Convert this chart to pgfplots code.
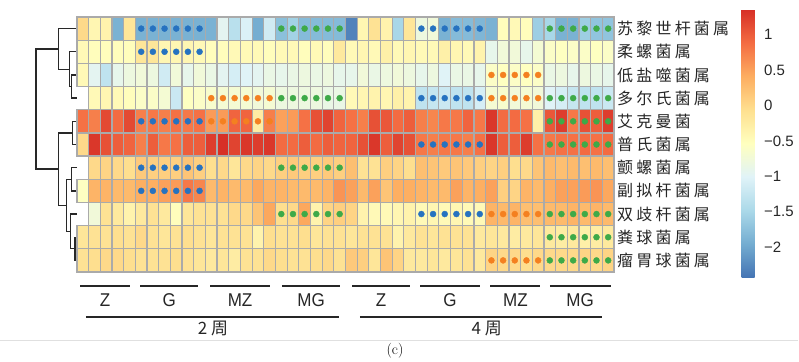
\documentclass[border=0pt]{standalone}
\usepackage{fontspec}
\usepackage{pgfplots}
\usepackage{pgfplotstable}
\pgfplotsset{compat=1.18}
\newfontfamily\cjk[LetterSpace=20]{Noto Sans CJK SC}
\newfontfamily\cjkplain{Noto Sans CJK SC}
\newfontfamily\lsans{Liberation Sans}
\newfontfamily\cond[FakeStretch=0.92]{Liberation Sans}
\newcommand\rowfont{\cjk\fontsize{16}{18}\selectfont}
\newcommand\barfont{\lsans\fontsize{15}{18}\selectfont}
\newcommand\grp[1]{{\cond\fontsize{18.5}{21}\selectfont #1}}
\newcommand\wk[1]{{\cjkplain\fontsize{17}{20}\selectfont #1}}
\newcommand\capt[1]{{\fontsize{15}{18}\selectfont #1}}
\definecolor{dotblue}{RGB}{38,114,192}
\definecolor{dotorange}{RGB}{244,128,32}
\definecolor{dotgreen}{RGB}{62,170,72}
\definecolor{gridgray}{RGB}{170,170,170}
\definecolor{dendro}{RGB}{40,40,40}
\pgfdeclareplotmark{cell}{%
  \pgfpathrectangle{\pgfpoint{-5.837pt}{-11.591pt}}{\pgfpoint{11.674pt}{23.182pt}}%
  \pgfusepathqfillstroke}

% 11 rows x 46 columns, row by row (x varies fastest)
\pgfplotstableread[row sep=\\]{
c\\
0.0\\ -0.4\\ -0.35\\ -1.9\\ -0.15\\ -1.9\\ -1.9\\ -1.9\\ -1.9\\ -1.9\\ -1.9\\ -1.9\\ -0.95\\ -1.35\\ -1.05\\ -1.95\\ -1.15\\ -1.75\\ -1.55\\ -1.8\\ -1.8\\ -1.8\\ -1.8\\ -2.3\\ -0.4\\ -0.1\\ -0.35\\ -1.5\\ -0.15\\ -0.8\\ -0.75\\ -1.9\\ -1.8\\ -1.8\\ -1.85\\ -1.9\\ -0.5\\ -0.45\\ -0.5\\ -1.6\\ -1.5\\ -1.9\\ -1.9\\ -1.6\\ -1.7\\ -1.7\\
-0.45\\ -0.5\\ -0.5\\ -0.5\\ -0.5\\ -0.15\\ -0.15\\ -0.4\\ -0.4\\ -0.4\\ -0.45\\ -0.5\\ -0.5\\ -0.45\\ -0.45\\ -0.45\\ -0.5\\ -0.45\\ -0.45\\ -0.5\\ -0.45\\ -0.5\\ -0.2\\ -0.45\\ -0.4\\ -0.45\\ -0.3\\ -0.45\\ -0.4\\ -0.45\\ -0.45\\ -0.3\\ -0.4\\ -0.45\\ -0.35\\ -0.9\\ -0.75\\ -0.75\\ -0.9\\ -0.7\\ -0.6\\ -0.55\\ -0.6\\ -0.6\\ -0.55\\ -0.6\\
-0.95\\ -0.95\\ -1.3\\ -0.9\\ -0.8\\ -0.75\\ -0.8\\ -1.15\\ -0.75\\ -0.9\\ -0.75\\ -0.85\\ -0.95\\ -1.1\\ -1.0\\ -0.95\\ -0.85\\ -0.9\\ -0.85\\ -0.8\\ -0.85\\ -0.8\\ -0.9\\ -0.9\\ -0.75\\ -0.85\\ -0.8\\ -0.75\\ -0.8\\ -0.9\\ -0.8\\ -1.0\\ -0.85\\ -0.85\\ -0.9\\ -0.6\\ -0.55\\ -0.6\\ -0.55\\ -0.6\\ -0.85\\ -0.8\\ -0.9\\ -0.8\\ -0.85\\ -0.9\\
-0.45\\ -0.45\\ -0.4\\ -0.45\\ -0.5\\ -0.6\\ -0.6\\ -0.7\\ -1.2\\ -0.55\\ -0.6\\ -0.65\\ -0.7\\ -0.7\\ -0.7\\ -0.75\\ -0.7\\ -0.8\\ -0.8\\ -0.8\\ -0.8\\ -0.85\\ -0.85\\ -0.45\\ -0.4\\ -0.35\\ -0.4\\ -0.3\\ -0.35\\ -1.3\\ -1.25\\ -1.2\\ -1.3\\ -1.3\\ -1.1\\ -0.7\\ -0.65\\ -0.75\\ -0.7\\ -0.75\\ -1.0\\ -1.1\\ -1.25\\ -1.3\\ -1.3\\ -1.2\\
0.85\\ 0.75\\ 1.15\\ 0.9\\ 1.15\\ 0.75\\ 0.8\\ 0.75\\ 0.85\\ 0.8\\ 0.85\\ 0.55\\ 0.55\\ 0.95\\ 0.95\\ -0.25\\ 0.75\\ 0.5\\ 0.55\\ 0.85\\ 1.1\\ 1.2\\ 0.95\\ 0.85\\ 0.75\\ 1.1\\ 1.05\\ 0.9\\ 1.0\\ 0.75\\ 0.7\\ 0.8\\ 0.8\\ 0.95\\ 0.8\\ 1.3\\ 0.9\\ 0.9\\ 0.85\\ -0.3\\ 1.05\\ 1.25\\ 0.8\\ 1.1\\ 1.0\\ 1.25\\
1.3\\ 1.3\\ 1.1\\ 1.0\\ 0.95\\ 0.75\\ 1.0\\ 0.8\\ 0.85\\ 1.0\\ 1.0\\ 1.25\\ 1.35\\ 1.2\\ 1.3\\ 1.25\\ 1.3\\ 0.9\\ 0.9\\ 1.0\\ 0.9\\ 1.0\\ 0.95\\ 0.95\\ 1.1\\ 1.3\\ 1.0\\ 1.2\\ 1.1\\ 0.8\\ 0.75\\ 0.8\\ 0.8\\ 0.75\\ 0.85\\ 1.3\\ 1.0\\ 1.0\\ 1.25\\ 0.85\\ 0.8\\ 0.85\\ 0.85\\ 0.9\\ 0.85\\ 0.9\\
0.0\\ 0.0\\ 0.05\\ 0.0\\ -0.05\\ 0.15\\ 0.1\\ 0.1\\ 0.1\\ 0.2\\ 0.1\\ -0.05\\ 0.0\\ -0.15\\ 0.0\\ 0.05\\ 0.0\\ 0.1\\ 0.15\\ 0.1\\ 0.1\\ 0.15\\ 0.1\\ 0.25\\ -0.1\\ -0.1\\ 0.1\\ 0.05\\ -0.05\\ 0.25\\ 0.2\\ 0.15\\ 0.2\\ 0.15\\ 0.1\\ 0.05\\ 0.1\\ -0.05\\ 0.0\\ 0.2\\ 0.3\\ 0.25\\ 0.3\\ 0.25\\ 0.3\\ 0.25\\
0.45\\ 0.35\\ 0.35\\ 0.3\\ 0.3\\ 0.4\\ 0.4\\ 0.5\\ 0.55\\ 0.8\\ 0.7\\ 0.3\\ 0.35\\ 0.3\\ 0.3\\ 0.45\\ 0.35\\ 0.35\\ 0.3\\ 0.3\\ 0.3\\ 0.35\\ 0.6\\ 0.5\\ 0.3\\ 0.5\\ 0.2\\ 0.4\\ 0.4\\ 0.35\\ 0.3\\ 0.3\\ 0.5\\ 0.35\\ 0.4\\ 0.5\\ 0.1\\ 0.05\\ 0.35\\ 0.3\\ 0.4\\ 0.5\\ 0.5\\ 0.55\\ 0.6\\ 0.45\\
-0.55\\ -0.75\\ -0.1\\ -0.2\\ -0.35\\ -0.2\\ -0.1\\ -0.2\\ -0.5\\ -0.15\\ -0.1\\ -0.1\\ -0.1\\ 0.0\\ 0.0\\ 0.2\\ 0.45\\ -0.05\\ 0.0\\ 0.45\\ -0.35\\ 0.05\\ 0.1\\ 0.05\\ -0.35\\ -0.45\\ -0.45\\ -0.4\\ -0.35\\ -0.45\\ -0.4\\ -0.45\\ -0.4\\ -0.45\\ -0.45\\ 0.35\\ 0.3\\ 0.35\\ 0.25\\ 0.25\\ 0.3\\ 0.3\\ 0.35\\ 0.3\\ 0.35\\ 0.3\\
-0.15\\ -0.1\\ -0.1\\ -0.05\\ -0.1\\ 0.0\\ -0.1\\ -0.15\\ -0.1\\ -0.05\\ -0.1\\ -0.15\\ -0.1\\ -0.1\\ -0.1\\ -0.35\\ -0.05\\ -0.1\\ -0.1\\ -0.05\\ -0.15\\ -0.1\\ -0.1\\ -0.15\\ -0.1\\ -0.1\\ -0.1\\ -0.35\\ -0.2\\ -0.1\\ -0.15\\ -0.1\\ -0.1\\ -0.1\\ -0.2\\ -0.15\\ -0.2\\ -0.25\\ -0.2\\ -0.15\\ -0.2\\ -0.25\\ -0.2\\ -0.3\\ -0.25\\ -0.2\\
-0.1\\ -0.05\\ 0.0\\ 0.0\\ -0.05\\ -0.1\\ -0.1\\ -0.1\\ -0.05\\ -0.1\\ -0.15\\ -0.2\\ -0.15\\ -0.25\\ -0.1\\ -0.1\\ 0.0\\ -0.05\\ -0.1\\ -0.1\\ -0.05\\ 0.0\\ -0.1\\ 0.15\\ 0.1\\ -0.15\\ 0.2\\ 0.05\\ -0.2\\ -0.2\\ -0.15\\ -0.2\\ -0.15\\ -0.1\\ -0.2\\ 0.05\\ 0.0\\ 0.0\\ -0.05\\ 0.0\\ 0.0\\ 0.0\\ 0.0\\ 0.05\\ 0.0\\ 0.05\\
}\heat
\pgfplotstablecreatecol[create col/expr={mod(\pgfplotstablerow,46)}]{x}\heat
\pgfplotstablecreatecol[create col/expr={floor(\pgfplotstablerow/46)}]{y}\heat

\begin{document}
\begin{tikzpicture}
\useasboundingbox (-77pt,-89pt) rectangle (722pt,272pt);
\begin{axis}[
  at={(0pt,0pt)}, anchor=south west,
  scale only axis, width=537pt, height=255pt,
  xmin=-0.5, xmax=45.5, ymin=-0.5, ymax=10.5, y dir=reverse,
  clip=false,
  axis line style={draw=none},
  xtick=\empty,
  ytick={0,...,10},
  yticklabels={苏黎世杆菌属,柔螺菌属,低盐噬菌属,多尔氏菌属,艾克曼菌,普氏菌属,颤螺菌属,副拟杆菌属,双歧杆菌属,粪球菌属,瘤胃球菌属},
  yticklabel pos=right,
  tick style={draw=none},
  major tick length=0pt,
  yticklabel style={font=\rowfont, anchor=west, inner sep=0pt, xshift=3pt, text=black!85},
  colormap={rdylbu}{rgb255=(69,117,180) rgb255=(116,173,209) rgb255=(171,217,233) rgb255=(224,243,248) rgb255=(255,255,191) rgb255=(254,224,144) rgb255=(253,174,97) rgb255=(244,109,67) rgb255=(215,48,39)},
  point meta min=-2.42, point meta max=1.35,
  colorbar,
  colorbar style={
    at={(parent axis.north east)}, anchor=north west,
    xshift=119pt, yshift=7pt,
    scale only axis, width=13pt, height=267pt,
    axis line style={draw=none},
    ytick={-2,-1.5,-1,-0.5,0,0.5,1},
    yticklabels={−2,−1.5,−1,−0.5,0,0.5,1},
    major tick length=0pt,
    tick style={draw=none},
    yticklabel style={font=\barfont, xshift=6pt, text=black!85},
  },
]
% heatmap cells
\addplot[scatter, only marks, mark=cell, point meta=explicit,
  scatter/use mapped color={draw=gridgray, fill=mapped color},
  mark options={line width=1.2pt}]
  table[x=x, y=y, meta=c] {\heat};

% significance dots
\addplot[only marks, mark=*, mark size=3pt, color=dotblue] coordinates {
(5,0)(6,0)(7,0)(8,0)(9,0)(10,0)(29,0)(30,0)(31,0)(32,0)(33,0)(34,0)
(5,1)(6,1)(7,1)(8,1)(9,1)(10,1)
(29,3)(30,3)(31,3)(32,3)(33,3)(34,3)
(5,4)(6,4)(7,4)(8,4)(9,4)(10,4)
(29,5)(30,5)(31,5)(32,5)(33,5)(34,5)
(5,6)(6,6)(7,6)(8,6)(9,6)(10,6)
(5,7)(6,7)(7,7)(8,7)(9,7)(10,7)
(29,8)(30,8)(31,8)(32,8)(33,8)(34,8)
};
\addplot[only marks, mark=*, mark size=3pt, color=dotorange] coordinates {
(35,2)(36,2)(37,2)(38,2)(39,2)
(11,3)(12,3)(13,3)(14,3)(15,3)(16,3)(35,3)(36,3)(37,3)(38,3)(39,3)
(11,4)(12,4)(13,4)(14,4)(15,4)(16,4)
(35,8)(36,8)(37,8)(38,8)(39,8)
(35,10)(36,10)(37,10)(38,10)(39,10)
};
\addplot[only marks, mark=*, mark size=3pt, color=dotgreen] coordinates {
(17,0)(18,0)(19,0)(20,0)(21,0)(22,0)(40,0)(41,0)(42,0)(43,0)(44,0)(45,0)
(17,3)(18,3)(19,3)(20,3)(21,3)(22,3)(40,3)(41,3)(42,3)(43,3)(44,3)(45,3)
(40,4)(41,4)(42,4)(43,4)(44,4)(45,4)
(40,5)(41,5)(42,5)(43,5)(44,5)(45,5)
(17,6)(18,6)(19,6)(20,6)(21,6)(22,6)
(17,8)(18,8)(19,8)(20,8)(21,8)(22,8)(40,8)(41,8)(42,8)(43,8)(44,8)(45,8)
(40,9)(41,9)(42,9)(43,9)(44,9)(45,9)
(40,10)(41,10)(42,10)(43,10)(44,10)(45,10)
};

% dendrogram
\pgfplotsset{dend/.style={sharp plot, draw=dendro, fill=none, line width=1.3pt, mark=none, forget plot}}
\addplot[dend] coordinates {(-0.5,2) (-0.95,2) (-0.95,3) (-0.5,3)};
\addplot[dend] coordinates {(-0.5,1) (-1.15,1) (-1.15,2.5) (-0.95,2.5)};
\addplot[dend] coordinates {(-0.5,0) (-2.1,0) (-2.1,1.75) (-1.15,1.75)};
\addplot[dend] coordinates {(-0.5,4) (-0.87,4) (-0.87,5) (-0.5,5)};
\addplot[dend] coordinates {(-0.5,6) (-0.95,6) (-0.95,7) (-0.5,7)};
\addplot[dend] coordinates {(-0.5,9) (-0.67,9) (-0.67,10) (-0.5,10)};
\addplot[dend] coordinates {(-0.5,8) (-1.04,8) (-1.04,9.5) (-0.67,9.5)};
\addplot[dend] coordinates {(-0.95,6.5) (-1.38,6.5) (-1.38,8.75) (-1.04,8.75)};
\addplot[dend] coordinates {(-0.87,4.5) (-2.1,4.5) (-2.1,7.625) (-1.38,7.625)};
\addplot[dend] coordinates {(-2.1,0.875) (-4.0,0.875) (-4.0,6.06) (-2.1,6.06)};

% group annotations
\begin{scope}[line width=1.5pt, draw=black!85]
\draw (axis cs:-0.24,11.1) -- (axis cs:4.04,11.1);
\draw (axis cs:4.9,11.1) -- (axis cs:9.87,11.1);
\draw (axis cs:10.9,11.1) -- (axis cs:16.03,11.1);
\draw (axis cs:17.06,11.1) -- (axis cs:22.03,11.1);
\draw (axis cs:23.06,11.1) -- (axis cs:28.03,11.1);
\draw (axis cs:28.9,11.1) -- (axis cs:34.0,11.1);
\draw (axis cs:34.9,11.1) -- (axis cs:39.2,11.1);
\draw (axis cs:40.0,11.1) -- (axis cs:45.2,11.1);
\draw[line width=1.8pt] (axis cs:0.27,12.44) -- (axis cs:21.94,12.44);
\draw[line width=1.8pt] (axis cs:23.74,12.44) -- (axis cs:44.47,12.44);
\end{scope}
\node[text=black!85] at (axis cs:1.9,11.72) {\grp{Z}};
\node[text=black!85] at (axis cs:7.4,11.72) {\grp{G}};
\node[text=black!85] at (axis cs:13.47,11.72) {\grp{MZ}};
\node[text=black!85] at (axis cs:19.55,11.72) {\grp{MG}};
\node[text=black!85] at (axis cs:25.55,11.72) {\grp{Z}};
\node[text=black!85] at (axis cs:31.45,11.72) {\grp{G}};
\node[text=black!85] at (axis cs:37.05,11.72) {\grp{MZ}};
\node[text=black!85] at (axis cs:42.6,11.72) {\grp{MG}};
\node[text=black!85] at (axis cs:11.15,12.95) {\wk{2 周}};
\node[text=black!85] at (axis cs:34.6,12.95) {\wk{4 周}};
\draw[black!12, line width=0.8pt] (axis cs:-7.1,13.43) -- (axis cs:61.3,13.43);
\node at (axis cs:26.74,13.9) {\capt{(c)}};
\end{axis}
\end{tikzpicture}
\end{document}
